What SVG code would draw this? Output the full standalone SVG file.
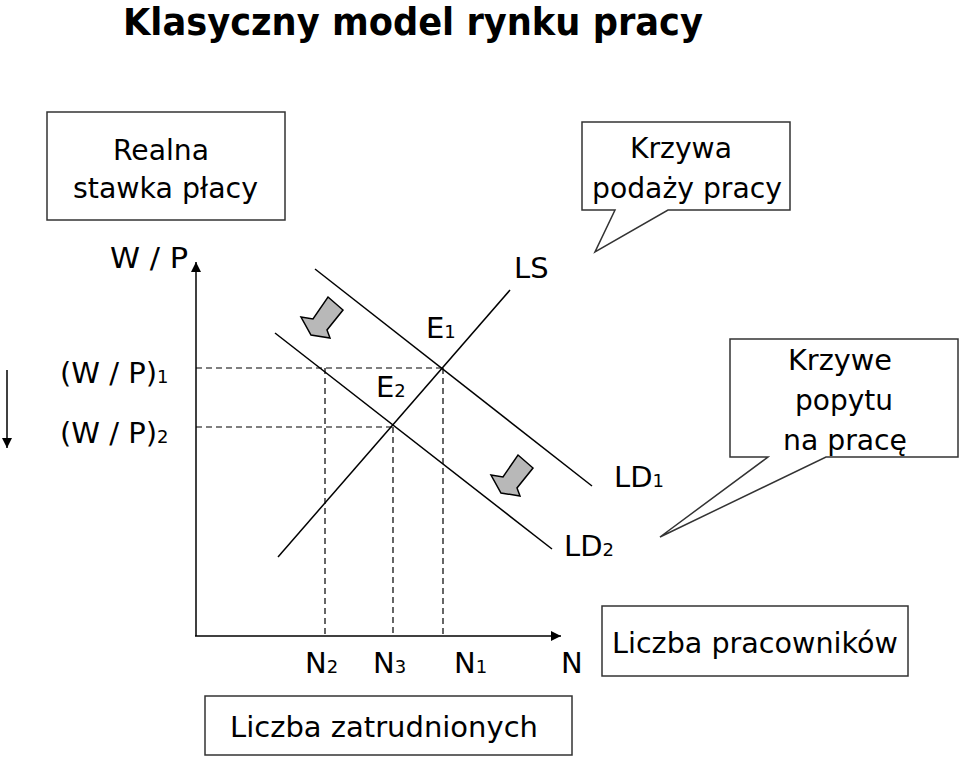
<svg xmlns="http://www.w3.org/2000/svg" width="960" height="757" viewBox="0 0 960 757">
<style>
text{font-family:"DejaVu Sans","Liberation Sans",sans-serif;fill:#000}
.t{font-size:29px}
.s{font-size:18px}
.box{fill:#fff;stroke:#333;stroke-width:1.5}
.ln{stroke:#000;stroke-width:1.5;fill:none}
.ds{stroke:#000;stroke-width:1.2;stroke-dasharray:6 4;fill:none}
.ga{fill:#b8b8b8;stroke:#000;stroke-width:1.5;stroke-linejoin:miter}
</style>
<defs>
<marker id="ah" viewBox="0 0 10 10" refX="10" refY="5" markerWidth="12" markerHeight="10" markerUnits="userSpaceOnUse" orient="auto">
<path d="M0,0 L10,5 L0,10 z" fill="#000"/>
</marker>
<polygon id="garrow" points="0,0 15,13 -1,33 2,41 -17,38 -27,20 -15,22"/>
</defs>
<rect width="960" height="757" fill="#fff"/>
<text x="123" y="35" font-size="37" font-weight="bold" textLength="580" lengthAdjust="spacingAndGlyphs">Klasyczny model rynku pracy</text>

<g id="box-realna">
<rect class="box" x="47" y="112" width="238" height="108"/>
<text class="t" x="113" y="160" textLength="96" lengthAdjust="spacingAndGlyphs">Realna</text>
<text class="t" x="73" y="198" textLength="185" lengthAdjust="spacingAndGlyphs">stawka płacy</text>
</g>

<g id="callout-podaz">
<path class="box" d="M582,122 H790 V210 H668 L595,252 L615,210 H582 Z"/>
<text class="t" x="630" y="158" textLength="102" lengthAdjust="spacingAndGlyphs">Krzywa</text>
<text class="t" x="592" y="198" textLength="190" lengthAdjust="spacingAndGlyphs">podaży pracy</text>
</g>

<g id="callout-popyt">
<path class="box" d="M730,339 H958 V457 H826 L660,537 L768,457 H730 Z"/>
<text class="t" x="788" y="370" textLength="104" lengthAdjust="spacingAndGlyphs">Krzywe</text>
<text class="t" x="795" y="410" textLength="98" lengthAdjust="spacingAndGlyphs">popytu</text>
<text class="t" x="783" y="450" textLength="124" lengthAdjust="spacingAndGlyphs">na pracę</text>
</g>

<g id="box-pracownikow">
<rect class="box" x="602" y="606" width="306" height="70"/>
<text class="t" x="612" y="653" textLength="286" lengthAdjust="spacingAndGlyphs">Liczba pracowników</text>
</g>

<g id="box-zatrudnionych">
<rect class="box" x="205" y="696" width="367" height="59"/>
<text class="t" x="230" y="737" textLength="308" lengthAdjust="spacingAndGlyphs">Liczba zatrudnionych</text>
</g>

<g id="axes">
<line class="ln" x1="196" y1="636" x2="196" y2="262" marker-end="url(#ah)"/>
<line class="ln" x1="195" y1="636" x2="561" y2="636" marker-end="url(#ah)"/>
<line class="ln" x1="7" y1="370" x2="7" y2="448" marker-end="url(#ah)"/>
<text class="t" x="110" y="268" textLength="78" lengthAdjust="spacingAndGlyphs">W / P</text>
<text class="t" x="60" y="383"><tspan textLength="97" lengthAdjust="spacingAndGlyphs">(W / P)</tspan><tspan class="s">1</tspan></text>
<text class="t" x="60" y="443"><tspan textLength="97" lengthAdjust="spacingAndGlyphs">(W / P)</tspan><tspan class="s">2</tspan></text>
<text class="t" x="305" y="673" font-size="30">N<tspan class="s">2</tspan></text>
<text class="t" x="373" y="673" font-size="30">N<tspan class="s">3</tspan></text>
<text class="t" x="454" y="673" font-size="30">N<tspan class="s">1</tspan></text>
<text class="t" x="561" y="673" font-size="30">N</text>
</g>

<g id="connectors">
<line class="ds" x1="196" y1="368" x2="442" y2="368"/>
<line class="ds" x1="196" y1="427" x2="393" y2="427"/>
<line class="ds" x1="325" y1="368" x2="325" y2="636"/>
<line class="ds" x1="393" y1="427" x2="393" y2="636"/>
<line class="ds" x1="443" y1="368" x2="443" y2="636"/>
<line class="ln" x1="315" y1="269" x2="592" y2="486"/>
<line class="ln" x1="275" y1="333" x2="552" y2="549"/>
<line class="ln" x1="278" y1="557" x2="510" y2="290"/>
</g>

<g id="labels">
<text class="t" x="514" y="278">LS</text>
<text class="t" x="426" y="338">E<tspan class="s">1</tspan></text>
<text class="t" x="376" y="397">E<tspan class="s">2</tspan></text>
<text class="t" x="614" y="487">LD<tspan class="s">1</tspan></text>
<text class="t" x="564" y="556">LD<tspan class="s">2</tspan></text>
</g>

<g id="shift-arrows">
<use href="#garrow" class="ga" x="328" y="297"/>
<use href="#garrow" class="ga" x="518" y="455"/>
</g>
</svg>
